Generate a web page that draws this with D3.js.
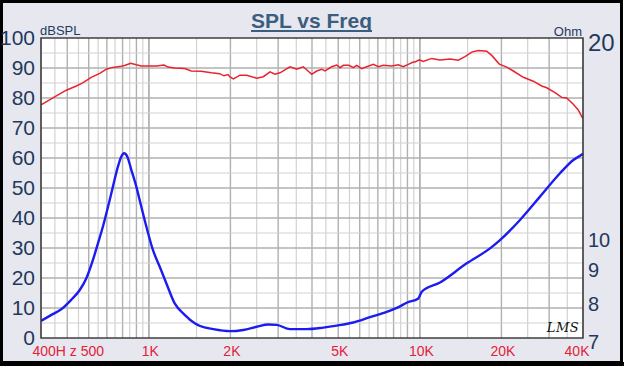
<!DOCTYPE html>
<html><head><meta charset="utf-8">
<script src="https://cdn.jsdelivr.net/npm/d3@7"></script>
<style>
html,body{margin:0;padding:0;background:#fff;}
svg{display:block;font-family:"Liberation Sans",Arial,sans-serif;}
</style></head>
<body><svg id="c" width="624" height="366"></svg>
<script>
// ---- data ----
const splFreq = [400,418,449,496,540,572,613,659,697,737,791,819,857,899,938,993,1066,1138,1177,1246,1356,1434,1562,1700,1826,1894,1959,1993,2050,2170,2297,2501,2645,2800,2921,3048,3318,3513,3715,3990,4163,4344,4468,4729,4935,5075,5220,5478,5682,5848,6102,6367,6734,7027,7332,7873,8327,8689,9066,9460,9597,9954,10298,11061,11871,12920,13864,14677,15538,16435,17650,18416,19644,20920,22129,24085,26219,28164,29387,31531,33377,34827,36837,38434,39560,40000];
const splDb = [77.7,78.7,80.4,82.6,84.0,85.1,86.9,88.2,89.6,90.2,90.6,90.9,91.6,91.1,90.7,90.7,90.7,91.0,90.3,90.0,89.8,89.0,88.9,88.4,88.1,87.4,87.8,87.0,86.4,87.6,87.6,86.6,87.1,88.7,87.9,88.4,90.4,89.6,90.4,87.9,89.0,89.6,89.0,90.4,91.0,90.1,90.9,90.9,90.1,90.9,89.8,90.4,91.2,90.4,90.9,90.7,91.1,90.4,91.2,92.0,92.0,92.7,92.2,93.2,92.7,93.0,92.6,93.8,95.3,95.8,95.6,94.2,91.3,90.3,89.0,86.9,85.6,84.0,83.4,81.8,80.2,80.0,77.9,76.0,73.8,73.2];
const zFreq = [400,437,475,517,556,588,622,649,677,707,737,769,791,810,833,862,899,938,979,1036,1097,1160,1246,1356,1477,1545,1729,1993,2231,2501,2760,2964,3318,3824,4404,4935,5682,6547,7546,8450,8944,9870,10160,11871,14890,18152,19762,23420,27759,32901,36837,39660,40000];
const zOhm = [7.43,7.59,7.74,8.00,8.28,8.63,9.20,9.75,10.34,11.08,11.89,12.75,13.20,13.36,13.20,12.60,11.89,11.08,10.34,9.52,8.98,8.48,7.90,7.59,7.37,7.30,7.22,7.17,7.20,7.28,7.34,7.33,7.22,7.22,7.26,7.31,7.39,7.53,7.67,7.82,7.92,8.04,8.23,8.50,9.09,9.58,9.86,10.58,11.48,12.46,13.05,13.31,13.35];

const xTicks = [400,1000,2000,5000,10000,20000,40000];
const xTickLabels = ["400H z 500","1K","2K","5K","10K","20K","40K"];
const dbTicks = [0,10,20,30,40,50,60,70,80,90,100];
const ohmTicks = [7,8,9,10,20];
const title = "SPL vs Freq";

// ---- layout ----
const svg = d3.select("#c");
const L = 41, R = 583, T = 38, B = 338;
const x = d3.scaleLog().domain([400,40000]).range([L,R]);
const yL = d3.scaleLinear().domain([0,100]).range([B,T]);
const yR = d3.scaleLog().domain([7,20]).range([B,T]);

// background frame
svg.append("rect").attr("x",1.5).attr("y",1.5).attr("width",620).attr("height",361)
  .attr("fill","#e7e8ef").attr("stroke","#000").attr("stroke-width",3);
svg.append("rect").attr("x",0).attr("y",362).attr("width",624).attr("height",4).attr("fill","#000");
svg.append("rect").attr("x",L).attr("y",T).attr("width",R-L).attr("height",B-T).attr("fill","#fff");

// grid: minor every half-step, major every step within each decade band
const vMinor = [], vMajor = [];
[[400,1000,50],[1000,10000,500],[10000,40000,5000]].forEach(([a,b,s])=>{
  d3.range(a,b+1,s).forEach(f=>{ (f % (s*2) === 0 ? vMajor : vMinor).push(f); });
});
const g = svg.append("g");
g.selectAll(".vmin").data(vMinor).join("line").attr("x1",d=>x(d)).attr("x2",d=>x(d)).attr("y1",T).attr("y2",B)
  .attr("stroke","#d2d2d2").attr("stroke-width",1.2);
g.selectAll(".vmaj").data(vMajor).join("line").attr("x1",d=>x(d)).attr("x2",d=>x(d)).attr("y1",T).attr("y2",B)
  .attr("stroke","#b0b0b0").attr("stroke-width",1.4);
const hLines = d3.range(5,100,5);
g.selectAll(".h").data(hLines).join("line").attr("x1",L).attr("x2",R).attr("y1",d=>yL(d)).attr("y2",d=>yL(d))
  .attr("stroke",d=>d%10===0?"#b0b0b0":"#d2d2d2").attr("stroke-width",d=>d%10===0?1.4:1.2);

// curves
svg.append("clipPath").attr("id","pc").append("rect").attr("x",L).attr("y",T-4).attr("width",R-L+1).attr("height",B-T+8);
const splLine = d3.line().x((d,i)=>x(splFreq[i])).y(d=>yL(d));
svg.append("path").attr("d",splLine(splDb)).attr("fill","none").attr("stroke","#e8232e").attr("stroke-width",1.5).attr("clip-path","url(#pc)");
const zLine = d3.line().x((d,i)=>x(zFreq[i])).y(d=>yR(d)).curve(d3.curveMonotoneX);
svg.append("path").attr("d",zLine(zOhm)).attr("fill","none").attr("stroke","#1c1cf0").attr("stroke-width",2.4).attr("clip-path","url(#pc)");

// plot border
svg.append("rect").attr("x",L).attr("y",T).attr("width",R-L).attr("height",B-T).attr("fill","none").attr("stroke","#333").attr("stroke-width",1.4);

// left axis
const ax = svg.append("g").attr("transform",`translate(${L},0)`)
  .call(d3.axisLeft(yL).tickValues(dbTicks).tickSize(0).tickPadding(6));
ax.select(".domain").remove();
ax.selectAll("text").attr("font-size",21).attr("fill","#1f3a5c").attr("font-family","Liberation Sans, Arial, sans-serif");

// right axis
const ar = svg.append("g").attr("transform",`translate(${R},0)`)
  .call(d3.axisRight(yR).tickValues(ohmTicks).tickFormat(d3.format("d")).tickSize(0).tickPadding(5));
ar.select(".domain").remove();
ar.selectAll("text").attr("font-size",d=>d===20?24:20).attr("dy","0.52em").attr("fill","#1f3a5c").attr("font-family","Liberation Sans, Arial, sans-serif");

// bottom axis
const ab = svg.append("g").attr("transform",`translate(0,${B})`)
  .call(d3.axisBottom(x).tickValues(xTicks).tickFormat((d,i)=>xTickLabels[i]).tickSize(0).tickPadding(8));
ab.select(".domain").remove();
ab.selectAll("text").attr("font-size",14).attr("fill","#e3203a").attr("font-family","Liberation Sans, Arial, sans-serif")
  .attr("text-anchor",(d,i)=>i===0?"start":(i===xTicks.length-1?"end":"middle"))
  .attr("dx",(d,i)=>i===0?-9:(i===xTicks.length-1?6:1));

// unit labels
svg.append("text").attr("x",40).attr("y",35).attr("font-size",13).attr("fill","#1f3a5c").text("dBSPL");
svg.append("text").attr("x",582).attr("y",36).attr("text-anchor","end").attr("font-size",13).attr("fill","#1f3a5c").text("Ohm");

// title
const tt = svg.append("text").attr("x",311.5).attr("y",28).attr("text-anchor","middle").attr("font-size",21)
  .attr("font-weight","bold").attr("fill","#3b5d7e").text(title);
const tw = tt.node().getComputedTextLength();
svg.append("line").attr("x1",311.5-tw/2).attr("x2",311.5+tw/2).attr("y1",31).attr("y2",31).attr("stroke","#3b5d7e").attr("stroke-width",2);

// LMS logo
svg.append("text").attr("x",563).attr("y",332).attr("text-anchor","middle").attr("font-size",13)
  .attr("font-style","italic").attr("font-family","DejaVu Serif, serif").attr("letter-spacing",0.5).attr("fill","#111").text("LMS");
</script></body></html>
